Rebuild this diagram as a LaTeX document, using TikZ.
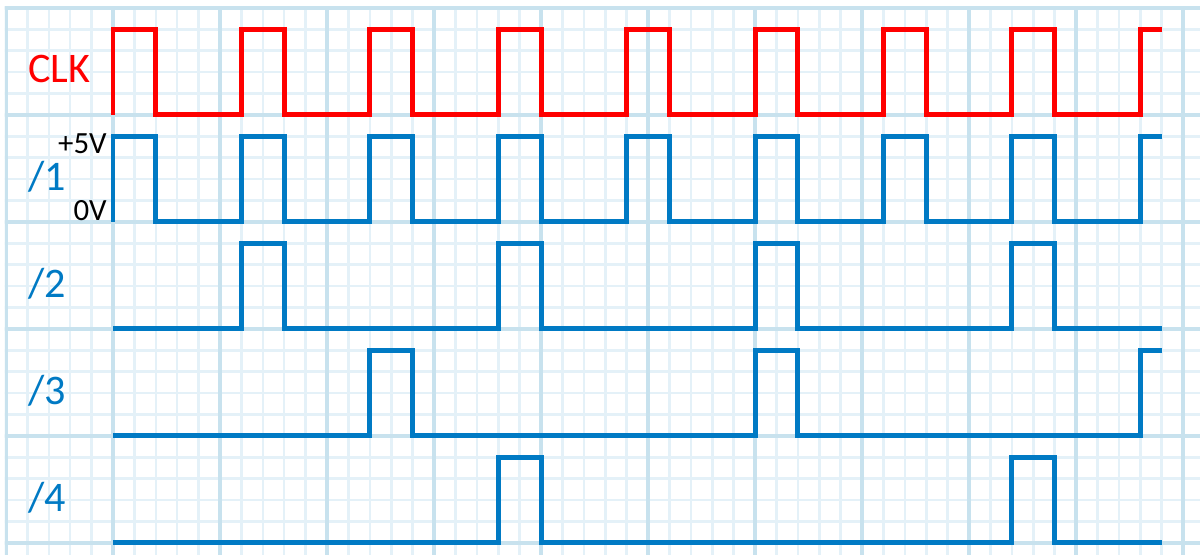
\documentclass[tikz,border=0pt]{standalone}
\usepackage{fontspec}
\setmainfont{Carlito}
\definecolor{sigblue}{RGB}{0,122,196}
\definecolor{sigred}{RGB}{255,0,0}
\definecolor{gridminor}{RGB}{228,241,248}
\definecolor{gridmajor}{RGB}{200,226,238}
\tikzset{
  minorline/.style={gridminor, line width=1.7pt},
  majorline/.style={gridmajor, line width=2.3pt},
  wave/.style={line width=3.3pt, line join=miter, line cap=butt},
  clkwave/.style={wave, sigred},
  bluewave/.style={wave, sigblue},
  siglabel/.style={anchor=base west, inner sep=0pt, font=\fontsize{28}{30}\selectfont},
  voltlabel/.style={anchor=base east, inner sep=0pt, font=\fontsize{20.5}{22}\selectfont, black},
}
\begin{document}
\begin{tikzpicture}[x=0.5cm, y=-0.5cm]
\useasboundingbox[fill=white] (-5.28,-5.37) rectangle (50.79,20.56);
% grid
\begin{scope}
\clip (-5.05,-5.05) rectangle (50.79,20.56);
\foreach \i in {-5,...,50} \draw[minorline] (\i,-5.2) -- (\i,20.7);
\foreach \j in {-5,...,20} \draw[minorline] (-5.2,\j) -- (50.9,\j);
\foreach \i in {-5,0,...,50} \draw[majorline] (\i,-5.2) -- (\i,20.7);
\foreach \j in {-5,0,...,20} \draw[majorline] (-5.2,\j) -- (50.9,\j);
\end{scope}
% waveforms
\draw[clkwave] (0,0) \foreach \k in {0,...,7}{ -- ++(0,-4) -- ++(2,0) -- ++(0,4) -- ++(4,0)} -- ++(0,-4) -- ++(1,0);
\draw[bluewave] (0,5) \foreach \k in {0,...,7}{ -- ++(0,-4) -- ++(2,0) -- ++(0,4) -- ++(4,0)} -- ++(0,-4) -- ++(1,0);
\draw[bluewave] (0,10) -- (6,10) -- (6,6) -- (8,6) -- (8,10) -- (18,10) -- (18,6) -- (20,6) -- (20,10)
  -- (30,10) -- (30,6) -- (32,6) -- (32,10) -- (42,10) -- (42,6) -- (44,6) -- (44,10) -- (49,10);
\draw[bluewave] (0,15) -- (12,15) -- (12,11) -- (14,11) -- (14,15) -- (30,15) -- (30,11) -- (32,11) -- (32,15)
  -- (48,15) -- (48,11) -- (49,11);
\draw[bluewave] (0,20) -- (18,20) -- (18,16) -- (20,16) -- (20,20) -- (42,20) -- (42,16) -- (44,16) -- (44,20) -- (49,20);
% labels
\node[siglabel, sigred] (clk) at (-3.97,-1.5) {CLK};
\node[siglabel, sigblue] (d1) at (-3.97,3.55) {/1};
\node[siglabel, sigblue] (d2) at (-3.97,8.55) {/2};
\node[siglabel, sigblue] (d3) at (-3.97,13.55) {/3};
\node[siglabel, sigblue] (d4) at (-3.97,18.55) {/4};
\node[voltlabel] (plus5) at (-0.28,1.78) {+5V};
\node[voltlabel] (zero) at (-0.28,4.95) {0V};
\end{tikzpicture}
\end{document}
